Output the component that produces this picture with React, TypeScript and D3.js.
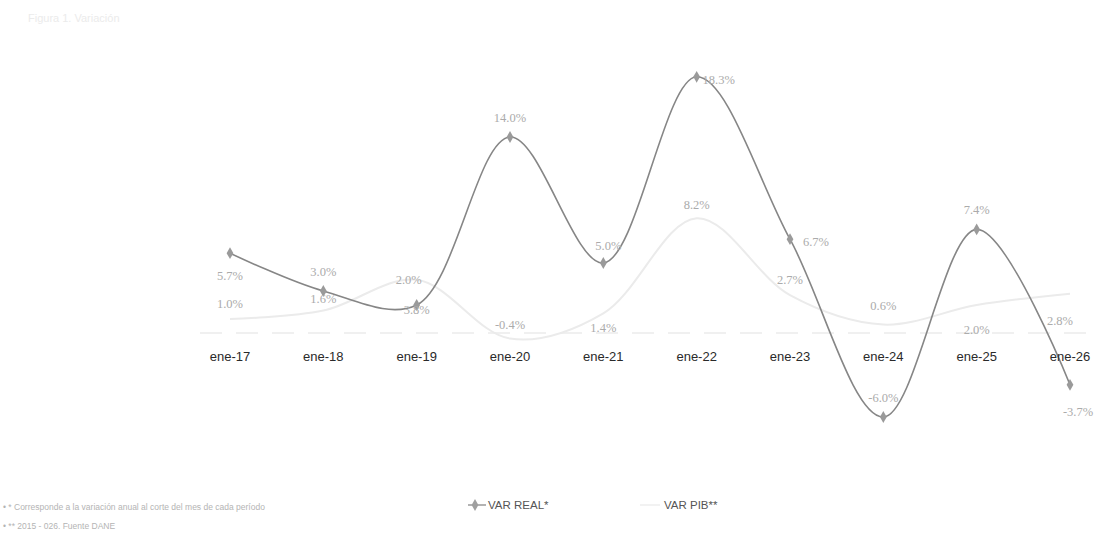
import * as d3 from "d3"

const categories = ["ene-17", "ene-18", "ene-19", "ene-20", "ene-21", "ene-22", "ene-23", "ene-24", "ene-25", "ene-26"]
const varReal = [5.7, 3.0, 2.0, 14.0, 5.0, 18.3, 6.7, -6.0, 7.4, -3.7]
const varPib = [1.0, 1.6, 3.8, -0.4, 1.4, 8.2, 2.7, 0.6, 2.0, 2.8]
const realLabels = ["5.7%", "3.0%", "2.0%", "14.0%", "5.0%", "18.3%", "6.7%", "-6.0%", "7.4%", "-3.7%"]
const pibLabels = ["1.0%", "1.6%", "3.8%", "-0.4%", "1.4%", "8.2%", "2.7%", "0.6%", "2.0%", "2.8%"]
// label offsets relative to each point [dx, dy]
const realLabelOffset = [[0, 24], [0, -18], [-8, -24], [0, -18], [5, -16], [22, 4], [26, 4], [0, -18], [0, -18], [8, 28]]
const pibLabelOffset = [[0, -14], [0, -10], [0, 31], [0, -12], [0, 16], [0, -12], [0, -14], [0, -17], [0, 26], [-10, 28]]

const W = 1094
const H = 546

export default function App() {
  const x = d3.scalePoint<string>().domain(categories).range([230, 1070])
  const y = d3.scaleLinear().domain([-8, 20]).range([445, 53])

  const line = d3
    .line<number>()
    .x((_, i) => x(categories[i]) as number)
    .y((d) => y(d))
    .curve(d3.curveCatmullRom.alpha(0.5))

  const diamond = d3.symbol().type(d3.symbolDiamond).size(40)()

  return (
    <svg width={W} height={H} style={{ position: "absolute", left: 0, top: 0, background: "#fff" }}>
      <text x={28} y={22} fontFamily="Liberation Sans, Arial, sans-serif" fontSize={11} fill="#ebebeb">
        Figura 1. Variación
      </text>

      {/* zero line */}
      <line x1={200} x2={1094} y1={y(0)} y2={y(0)} stroke="#ebebeb" strokeWidth={1.5} strokeDasharray="22,14" />

      {/* VAR PIB */}
      <path d={line(varPib) || ""} fill="none" stroke="#ebebeb" strokeWidth={2} />

      {/* VAR REAL */}
      <path d={line(varReal) || ""} fill="none" stroke="#868686" strokeWidth={1.6} />
      {varReal.map((v, i) => (
        <path key={i} d={diamond || ""} transform={`translate(${x(categories[i])},${y(v)})`} fill="#9a9a9a" />
      ))}

      {/* category labels */}
      {categories.map((c) => (
        <text
          key={c}
          x={x(c)}
          y={361}
          textAnchor="middle"
          fontFamily="Liberation Sans, Arial, sans-serif"
          fontSize={13}
          fill="#2a2a2a"
        >
          {c}
        </text>
      ))}

      {/* data labels */}
      {varReal.map((v, i) => (
        <text
          key={"r" + i}
          x={(x(categories[i]) as number) + realLabelOffset[i][0]}
          y={y(v) + realLabelOffset[i][1]}
          textAnchor="middle"
          dominantBaseline="middle"
          fontFamily="Liberation Serif, Times New Roman, serif"
          fontSize={12.5}
          fill="#ababab"
        >
          {realLabels[i]}
        </text>
      ))}
      {varPib.map((v, i) => (
        <text
          key={"p" + i}
          x={(x(categories[i]) as number) + pibLabelOffset[i][0]}
          y={y(v) + pibLabelOffset[i][1]}
          textAnchor="middle"
          dominantBaseline="middle"
          fontFamily="Liberation Serif, Times New Roman, serif"
          fontSize={12.5}
          fill="#ababab"
        >
          {pibLabels[i]}
        </text>
      ))}

      {/* legend */}
      <g transform="translate(468,505)">
        <line x1={0} x2={18} y1={0} y2={0} stroke="#9a9a9a" strokeWidth={1.5} />
        <path d={diamond || ""} transform="translate(7,0)" fill="#a0a0a0" />
        <text x={20} y={4} fontFamily="Liberation Sans, Arial, sans-serif" fontSize={11.5} fill="#555">
          VAR REAL*
        </text>
        <line x1={172} x2={192} y1={0} y2={0} stroke="#eeeeee" strokeWidth={1.5} />
        <text x={196} y={4} fontFamily="Liberation Sans, Arial, sans-serif" fontSize={11.5} fill="#555">
          VAR PIB**
        </text>
      </g>

      {/* footnotes */}
      <text x={3} y={510} fontFamily="Liberation Sans, Arial, sans-serif" fontSize={8.5} fill="#b4b4b4">
        • * Corresponde a la variación anual al corte del mes de cada período
      </text>
      <text x={3} y={529} fontFamily="Liberation Sans, Arial, sans-serif" fontSize={8.5} fill="#b4b4b4">
        • ** 2015 - 026. Fuente DANE
      </text>
    </svg>
  )
}
